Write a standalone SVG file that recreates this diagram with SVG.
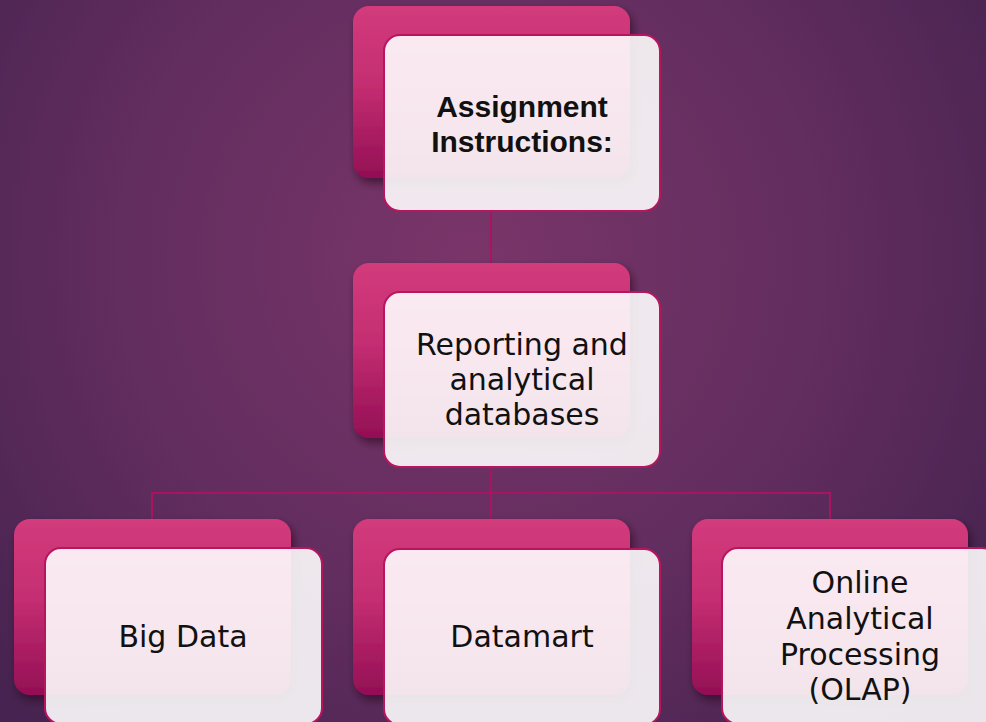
<svg xmlns="http://www.w3.org/2000/svg" width="986" height="722" viewBox="0 0 986 722">
<defs>
<radialGradient id="bg" cx="470" cy="260" r="640" gradientUnits="userSpaceOnUse">
<stop offset="0" stop-color="#7a3569"/>
<stop offset="0.55" stop-color="#622d5f"/>
<stop offset="1" stop-color="#462350"/>
</radialGradient>
<linearGradient id="pink" x1="0" y1="0" x2="0" y2="1">
<stop offset="0" stop-color="#d23b7c"/>
<stop offset="0.45" stop-color="#c52e72"/>
<stop offset="1" stop-color="#930f55"/>
</linearGradient>
<filter id="sh" x="-10%" y="-10%" width="125%" height="130%">
<feDropShadow dx="3" dy="5" stdDeviation="4" flood-color="#1a0518" flood-opacity="0.55"/>
</filter>
</defs>
<style>
.back{fill:url(#pink);filter:url(#sh);}
.front{fill:#ffffff;fill-opacity:0.89;stroke:#b8155f;stroke-width:2;}
.conn{fill:none;stroke:#a8145e;stroke-width:2;}
.t{font-family:"DejaVu Sans","Liberation Sans",sans-serif;font-size:30px;fill:#111;text-anchor:middle;}
.tb{font-family:"Liberation Sans",Arial,sans-serif;font-size:30px;font-weight:bold;fill:#111;text-anchor:middle;}
</style>
<rect x="0" y="0" width="986" height="722" fill="url(#bg)"/>
<g id="connectors">
<line class="conn" x1="491" y1="211" x2="491" y2="292"/>
<line class="conn" x1="491" y1="467" x2="491" y2="519"/>
<polyline class="conn" points="152,519 152,493 830,493 830,519"/>
</g>
<g id="node-assignment">
<rect class="back" x="353" y="6" width="277" height="172" rx="16"/>
<rect class="front" x="384" y="35" width="276" height="176" rx="16"/>
<text class="tb" x="522" y="117">Assignment</text>
<text class="tb" x="522" y="152">Instructions:</text>
</g>
<g id="node-reporting">
<rect class="back" x="353" y="263" width="277" height="175" rx="16"/>
<rect class="front" x="384" y="292" width="276" height="175" rx="16"/>
<text class="t" x="522" y="355">Reporting and</text>
<text class="t" x="522" y="390">analytical</text>
<text class="t" x="522" y="425">databases</text>
</g>
<g id="node-bigdata">
<rect class="back" x="14" y="519" width="277" height="176" rx="16"/>
<rect class="front" x="45" y="548" width="277" height="176" rx="16"/>
<text class="t" x="183" y="647">Big Data</text>
</g>
<g id="node-datamart">
<rect class="back" x="353" y="519" width="277" height="176" rx="16"/>
<rect class="front" x="384" y="549" width="276" height="176" rx="16"/>
<text class="t" x="522" y="647">Datamart</text>
</g>
<g id="node-olap">
<rect class="back" x="692" y="519" width="276" height="176" rx="16"/>
<rect class="front" x="722" y="548" width="276" height="176" rx="16"/>
<text class="t" x="860" y="593">Online</text>
<text class="t" x="860" y="629">Analytical</text>
<text class="t" x="860" y="665">Processing</text>
<text class="t" x="860" y="700">(OLAP)</text>
</g>
</svg>
